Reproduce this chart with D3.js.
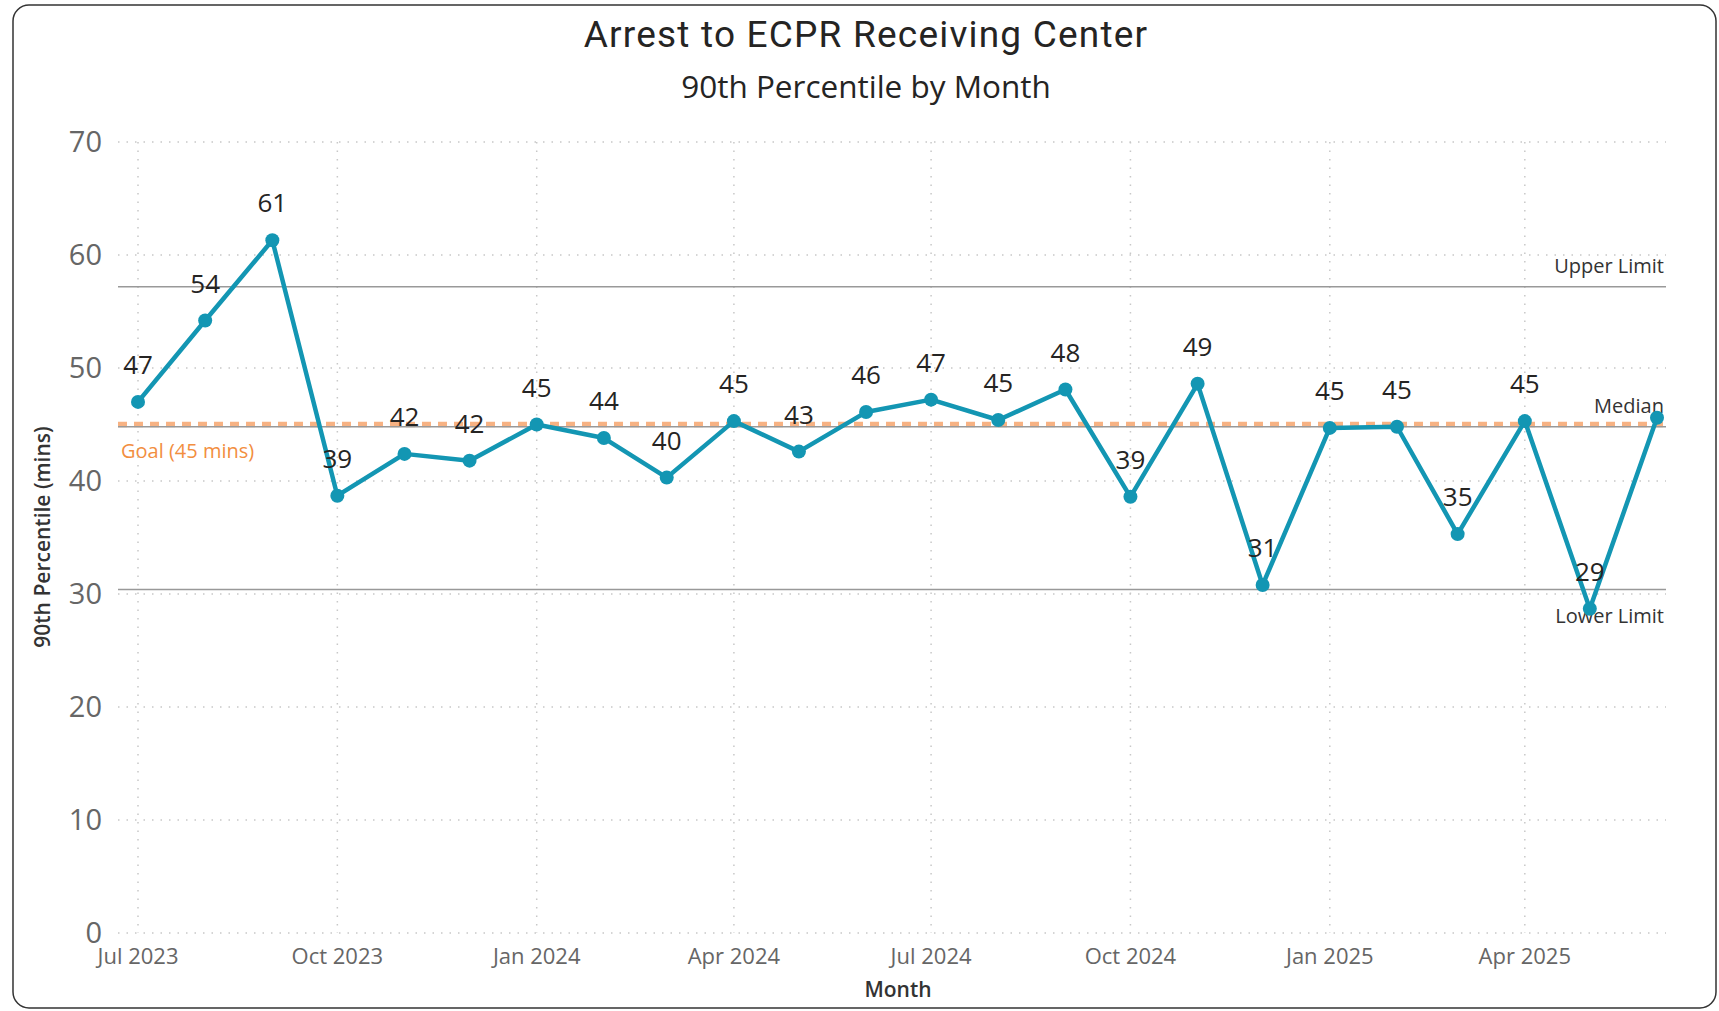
<!DOCTYPE html>
<html>
<head>
<meta charset="utf-8">
<script src="https://cdnjs.cloudflare.com/ajax/libs/d3/7.8.5/d3.min.js"></script>
<style>
  body { margin: 0; background: #fff; }
  svg { display: block; }
</style>
</head>
<body>
<div id="chart"></div>
<script>
(function() {

    var width = 1719;
    var height = 1011;

    // Jul 2023 .. Jun 2025
    var months = ["2023-07", "2023-08", "2023-09", "2023-10", "2023-11", "2023-12",
        "2024-01", "2024-02", "2024-03", "2024-04", "2024-05", "2024-06",
        "2024-07", "2024-08", "2024-09", "2024-10", "2024-11", "2024-12",
        "2025-01", "2025-02", "2025-03", "2025-04", "2025-05", "2025-06"];
    var values = [47.0, 54.2, 61.3, 38.7, 42.4, 41.8,
        45.0, 43.8, 40.3, 45.3, 42.6, 46.1,
        47.2, 45.4, 48.1, 38.6, 48.6, 30.8,
        44.7, 44.8, 35.3, 45.3, 28.7, 45.6];
    var yTicks = [0, 10, 20, 30, 40, 50, 60, 70];
    var xTickMonths = ["2023-07", "2023-10", "2024-01", "2024-04", "2024-07", "2024-10", "2025-01", "2025-04"];

    var upperLimit = 57.2;
    var median = 44.8;
    var lowerLimit = 30.4;
    var goal = 45;

    var parse = d3.timeParse("%Y-%m");
    var fmt = d3.timeFormat("%b %Y");

    var data = months.map(function (m, i) {
        return { date: parse(m), value: values[i] };
    });

    var x = d3.scaleTime()
        .domain([parse(months[0]), parse(months[months.length - 1])])
        .range([138, 1657]);

    var y = d3.scaleLinear()
        .domain([0, 70])
        .range([933, 142]);

    var plotLeft = 118, plotRight = 1666;

    var svg = d3.select("#chart")
        .append("svg")
        .attr("width", width)
        .attr("height", height);

    // card
    svg.append("rect")
        .attr("x", 13).attr("y", 5)
        .attr("width", 1703).attr("height", 1003)
        .attr("rx", 16)
        .attr("fill", "#fff")
        .attr("stroke", "#333")
        .attr("stroke-width", 1.5);

    // titles
    svg.append("text")
        .attr("x", 866).attr("y", 47)
        .attr("text-anchor", "middle")
        .style("font-family", "Roboto, 'DejaVu Sans', sans-serif")
        .style("font-size", "37px")
        .style("letter-spacing", "1.2px")
        .attr("fill", "#252423")
        .text("Arrest to ECPR Receiving Center");

    svg.append("text")
        .attr("x", 866).attr("y", 98)
        .attr("text-anchor", "middle")
        .style("font-family", "'Open Sans', sans-serif")
        .style("font-size", "31.5px")
        .attr("fill", "#252423")
        .text("90th Percentile by Month");

    // grid
    svg.append("g").selectAll("line.hgrid")
        .data(yTicks)
        .enter().append("line")
        .attr("class", "hgrid")
        .attr("x1", plotLeft).attr("x2", plotRight)
        .attr("y1", function (d) { return y(d); })
        .attr("y2", function (d) { return y(d); })
        .attr("stroke", "#c8c8c8")
        .attr("stroke-width", 1.5)
        .attr("stroke-dasharray", "1.5,7");

    svg.append("g").selectAll("line.vgrid")
        .data(xTickMonths)
        .enter().append("line")
        .attr("class", "vgrid")
        .attr("x1", function (d) { return x(parse(d)); })
        .attr("x2", function (d) { return x(parse(d)); })
        .attr("y1", y(70)).attr("y2", y(0))
        .attr("stroke", "#c8c8c8")
        .attr("stroke-width", 1.5)
        .attr("stroke-dasharray", "1.5,7");

    // y tick labels
    svg.append("g").selectAll("text")
        .data(yTicks)
        .enter().append("text")
        .attr("x", 102)
        .attr("y", function (d) { return y(d); })
        .attr("dy", "0.35em")
        .attr("text-anchor", "end")
        .style("font-family", "'Open Sans', sans-serif")
        .style("font-size", "29px")
        .attr("fill", "#666")
        .text(function (d) { return d; });

    // x tick labels
    svg.append("g").selectAll("text")
        .data(xTickMonths)
        .enter().append("text")
        .attr("x", function (d) { return x(parse(d)); })
        .attr("y", 964)
        .attr("text-anchor", "middle")
        .style("font-family", "'Open Sans', sans-serif")
        .style("font-size", "22px")
        .attr("fill", "#666")
        .text(function (d) { return fmt(parse(d)); });

    // axis titles
    svg.append("text")
        .attr("transform", "translate(50,537) rotate(-90)")
        .attr("text-anchor", "middle")
        .style("font-family", "'Open Sans', sans-serif")
        .style("font-size", "21px")
        .style("font-weight", "600")
        .attr("fill", "#333")
        .text("90th Percentile (mins)");

    svg.append("text")
        .attr("x", 898).attr("y", 997)
        .attr("text-anchor", "middle")
        .style("font-family", "'Open Sans', sans-serif")
        .style("font-size", "21px")
        .style("font-weight", "600")
        .attr("fill", "#333")
        .text("Month");

    // goal line
    svg.append("line")
        .attr("x1", plotLeft).attr("x2", plotRight)
        .attr("y1", y(goal)).attr("y2", y(goal))
        .attr("stroke", "#F7B283")
        .attr("stroke-width", 5.5)
        .attr("stroke-dasharray", "9,7");

    svg.append("text")
        .attr("x", 121).attr("y", y(goal) + 26)
        .attr("dy", "0.35em")
        .style("font-family", "'Open Sans', sans-serif")
        .style("font-size", "20px")
        .attr("fill", "#F28E3F")
        .text("Goal (45 mins)");

    // reference lines
    var refs = [
        { name: "Upper Limit", value: upperLimit, dy: -21 },
        { name: "Median", value: median, dy: -21 },
        { name: "Lower Limit", value: lowerLimit, dy: 27 }
    ];

    svg.append("g").selectAll("line")
        .data(refs)
        .enter().append("line")
        .attr("x1", plotLeft).attr("x2", plotRight)
        .attr("y1", function (d) { return y(d.value); })
        .attr("y2", function (d) { return y(d.value); })
        .attr("stroke", "#999")
        .attr("stroke-width", 1.5);

    svg.append("g").selectAll("text")
        .data(refs)
        .enter().append("text")
        .attr("x", 1664)
        .attr("y", function (d) { return y(d.value) + d.dy; })
        .attr("dy", "0.35em")
        .attr("text-anchor", "end")
        .style("font-family", "'Open Sans', sans-serif")
        .style("font-size", "20px")
        .attr("fill", "#333")
        .text(function (d) { return d.name; });

    // series
    var line = d3.line()
        .x(function (d) { return x(d.date); })
        .y(function (d) { return y(d.value); });

    svg.append("path")
        .datum(data)
        .attr("d", line)
        .attr("fill", "none")
        .attr("stroke", "#1396B3")
        .attr("stroke-width", 4.5)
        .attr("stroke-linejoin", "round");

    svg.append("g").selectAll("circle")
        .data(data)
        .enter().append("circle")
        .attr("cx", function (d) { return x(d.date); })
        .attr("cy", function (d) { return y(d.value); })
        .attr("r", 7)
        .attr("fill", "#1396B3");

    svg.append("g").selectAll("text")
        .data(data.slice(0, data.length - 1))
        .enter().append("text")
        .attr("x", function (d) { return x(d.date); })
        .attr("y", function (d) { return y(d.value) - 37; })
        .attr("dy", "0.35em")
        .attr("text-anchor", "middle")
        .style("font-family", "'Open Sans', sans-serif")
        .style("font-size", "26px")
        .attr("fill", "#252423")
        .text(function (d) { return Math.round(d.value); });

})();
</script>
</body>
</html>
